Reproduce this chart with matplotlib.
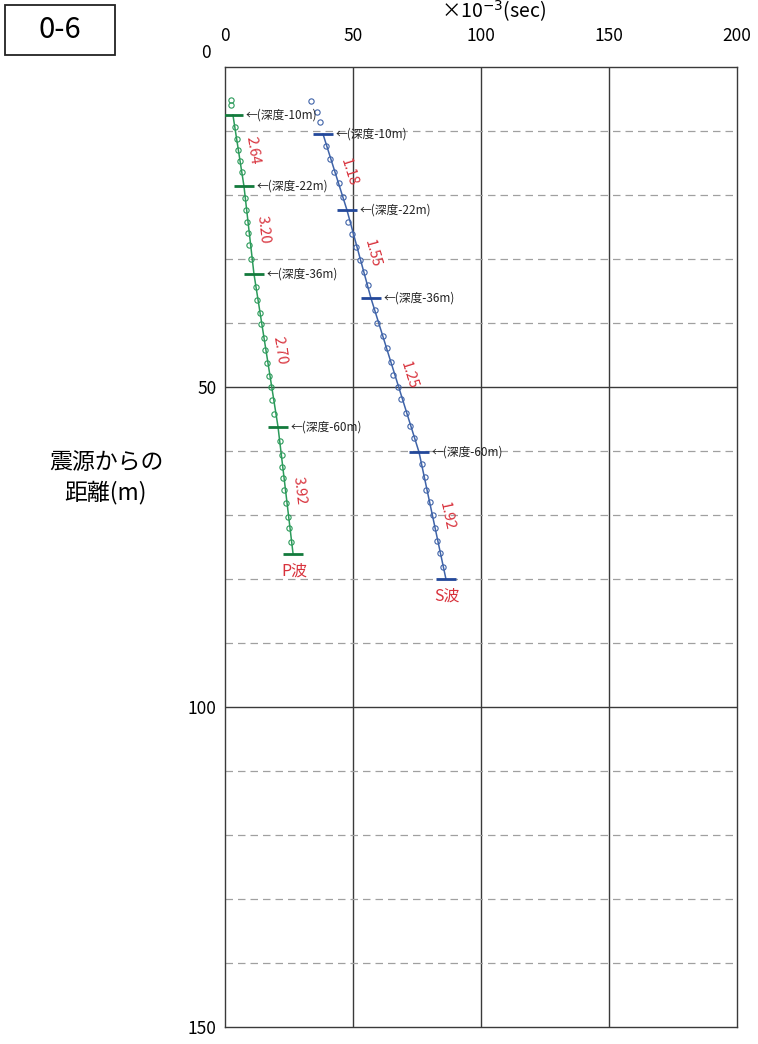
import numpy as np
import matplotlib
matplotlib.use('Agg')
import matplotlib.pyplot as plt
from matplotlib.patches import Rectangle

plt.rcParams['font.family'] = ['Noto Sans CJK JP', 'DejaVu Sans']

# ---------------- data ----------------
x_ticks = [0, 50, 100, 150, 200]
y_ticks = [50, 100, 150]
solid_rows = [50, 100]
dashed_rows = [10, 20, 30, 40, 60, 70, 80, 90, 110, 120, 130, 140]

# depth marks (travel time x1e-3 s, distance m)
p_tick_t = [3.1, 7.4, 11.3, 20.7, 26.6]
p_tick_d = [7.5, 18.6, 32.3, 56.2, 76.1]
s_tick_t = [38.3, 47.6, 57.0, 75.8, 86.3]
s_tick_d = [10.5, 22.3, 36.1, 60.2, 80.0]

# observed points
p_circle_t = [2.3, 2.3, 3.9, 4.7, 5.1, 5.9, 6.6, 7.8, 8.2, 8.6, 9.0, 9.4, 10.2,
              12.1, 12.5, 13.7, 14.1, 15.2, 15.6, 16.4, 17.2, 18.0, 18.4, 19.1,
              21.3, 22.3, 22.3, 22.7, 23.0, 23.8, 24.6, 25.0, 25.8]
p_circle_d = [5.2, 5.9, 9.4, 11.3, 13.0, 14.7, 16.4, 20.5, 22.3, 24.2, 26.0, 27.8, 30.0,
              34.4, 36.4, 38.4, 40.2, 42.3, 44.2, 46.3, 48.3, 50.0, 52.0, 54.2,
              58.5, 60.6, 62.5, 64.2, 66.1, 68.1, 70.3, 72.0, 74.2]
s_circle_t = [33.6, 35.9, 37.1, 39.5, 41.0, 42.6, 44.5, 46.1, 48.0, 49.6, 51.2,
              52.7, 54.3, 55.9, 58.6, 59.4, 61.7, 63.3, 64.8, 65.6, 67.6, 68.8,
              70.7, 72.3, 73.8, 77.0, 78.1, 78.5, 80.1, 81.3, 82.0, 82.8, 84.0, 85.2]
s_circle_d = [5.3, 7.0, 8.6, 12.3, 14.4, 16.4, 18.1, 20.3, 24.2, 26.1, 28.1,
              30.2, 32.0, 34.0, 38.0, 40.0, 42.0, 43.9, 46.1, 48.1, 50.0, 51.9,
              54.1, 56.1, 58.0, 62.0, 64.0, 66.1, 68.0, 70.0, 72.0, 74.0, 76.0, 78.1]

p_velocity = ['2.64', '3.20', '2.70', '3.92']
s_velocity = ['1.18', '1.55', '1.25', '1.92']
depth_marks = [10, 22, 36, 60]
wave_names = ['P波', 'S波']

# ---------------- figure ----------------
W, H = 758, 1044
fig = plt.figure(figsize=(W / 100, H / 100), dpi=100)
ax = fig.add_axes([225 / W, 1 - 1027 / H, 512 / W, 960 / H])
ax.set_xlim(0, 200)
ax.set_ylim(150, 0)

grid_dark = '#3a3a3a'
for x in [50, 100, 150]:
    ax.axvline(x, color=grid_dark, lw=1.0, zorder=1)
for y in solid_rows:
    ax.axhline(y, color=grid_dark, lw=1.0, zorder=1)
for y in dashed_rows:
    ax.axhline(y, color='#a0a0a0', lw=0.9, ls=(0, (6, 4)), zorder=1)
for s in ax.spines.values():
    s.set_color(grid_dark)
    s.set_linewidth(1.0)

ax.xaxis.tick_top()
ax.set_xticks(x_ticks)
ax.set_xticklabels([str(v) for v in x_ticks], fontsize=12.5)
ax.set_yticks(y_ticks)
ax.set_yticklabels([str(v) for v in y_ticks], fontsize=12.5)
ax.tick_params(length=0)
ax.tick_params(axis='y', pad=6)
ax.tick_params(axis='x', pad=16)
ax.annotate('0', (0, 0), xytext=(-10, 10), textcoords='offset points',
            ha='right', va='center', fontsize=12.5)

green_line = '#2b9a5a'
green_mark = '#137a3c'
blue_line = '#3f63a8'
blue_mark = '#23489a'
red = '#d8323c'

series = [
    (p_tick_t, p_tick_d, p_circle_t, p_circle_d, p_velocity, green_line, green_mark),
    (s_tick_t, s_tick_d, s_circle_t, s_circle_d, s_velocity, blue_line, blue_mark),
]

for k, (tt, td, ct, cd, vel, lc, mc) in enumerate(series):
    ax.plot(tt, td, color=lc, lw=1.1, zorder=3)
    ax.plot(ct, cd, ls='none', marker='o', ms=3.8, mfc='none', mec=lc, mew=0.8, zorder=4)
    ax.plot(tt, td, ls='none', marker='_', ms=14, mew=2.0, color=mc, zorder=5)
    # depth annotations
    for i, dm in enumerate(depth_marks):
        ax.annotate('←(深度-%dm)' % dm, (tt[i], td[i]), xytext=(9, 0),
                    textcoords='offset points', ha='left', va='center',
                    fontsize=8.5, color='#222222', zorder=6)
    # velocity labels
    for i, v in enumerate(vel):
        p1 = ax.transData.transform((tt[i], td[i]))
        p2 = ax.transData.transform((tt[i + 1], td[i + 1]))
        ang = np.degrees(np.arctan2(p2[1] - p1[1], p2[0] - p1[0]))
        mx, my = (tt[i] + tt[i + 1]) / 2, (td[i] + td[i + 1]) / 2
        ax.annotate(v, (mx, my), xytext=(10, 0), textcoords='offset points',
                    ha='center', va='center', rotation=ang, rotation_mode='anchor',
                    fontsize=10.5, color=red, zorder=6)
    ax.annotate(wave_names[k], (tt[-1], td[-1]), xytext=(1, -12),
                textcoords='offset points', ha='center', va='center',
                fontsize=11.5, color=red, zorder=6)

# title and labels
fig.text(494 / W, 1 - 11 / H, '×10$^{-3}$(sec)', ha='center', va='center', fontsize=14)
fig.text(106 / W, 1 - 478 / H, '震源からの\n距離(m)', ha='center', va='center',
         fontsize=16.5, linespacing=1.35)

fig.patches.append(Rectangle((5 / W, 1 - 55 / H), 110 / W, 50 / H,
                             transform=fig.transFigure, fill=False,
                             edgecolor='#222222', lw=1.3))
fig.text(60 / W, 1 - 30 / H, '0-6', ha='center', va='center', fontsize=21)

fig.savefig('out.png', dpi=100)
